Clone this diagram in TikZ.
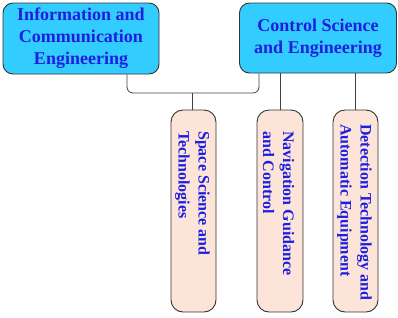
\documentclass[tikz,border=0pt]{standalone}
\usepackage{fontspec}
\setmainfont{Liberation Serif}
\begin{document}
\begin{tikzpicture}[x=1pt,y=-1pt,
  topbox/.style={draw=black!80, line width=0.9pt, fill=cyanfill, rounded corners=10pt, inner sep=0pt, align=center, font=\fontsize{18}{22}\selectfont\bfseries, text=txtblue},
  subbox/.style={draw=black!80, line width=0.9pt, fill=pinkfill, rounded corners=12pt, inner sep=0pt},
  subtext/.style={rotate=-90, anchor=west, inner sep=0pt, align=left, font=\fontsize{16}{20}\selectfont\bfseries, text=txtblue},
  link/.style={draw=black!75, line width=0.8pt}]
\definecolor{cyanfill}{RGB}{51,204,255}
\definecolor{pinkfill}{RGB}{252,229,216}
\definecolor{txtblue}{RGB}{30,30,225}
\useasboundingbox (0,0) rectangle (398,317);
\node[topbox, minimum width=156pt, minimum height=71pt] (ice) at (81,38.5) {Information and\\Communication\\Engineering};
\node[topbox, minimum width=157pt, minimum height=70pt] (cse) at (318,38) {Control Science\\and Engineering};
\node[subbox, minimum width=45pt, minimum height=202pt] (ssa) at (193.5,211) {};
\node[subbox, minimum width=46pt, minimum height=202pt] (nav) at (280,211) {};
\node[subbox, minimum width=45pt, minimum height=202pt] (det) at (355.5,211) {};
\node[subtext] (ssat) at (192.5,131) {Space Science and\\Technologies};
\node[subtext] (navt) at (278.5,131) {Navigation Guidance\\and Control};
\node[subtext] (dett) at (354.5,124) {Detection Technology and\\Automatic Equipment};
\coordinate (j) at (192,93);
\draw[link, rounded corners=6pt] ([xshift=46pt]ice.south) |- (j) -| ([xshift=-59pt]cse.south);
\draw[link] (j) -- (j |- ssa.north);
\draw[link] (nav.north |- cse.south) -- (nav.north);
\draw[link] (det.north |- cse.south) -- (det.north);
\end{tikzpicture}
\end{document}
